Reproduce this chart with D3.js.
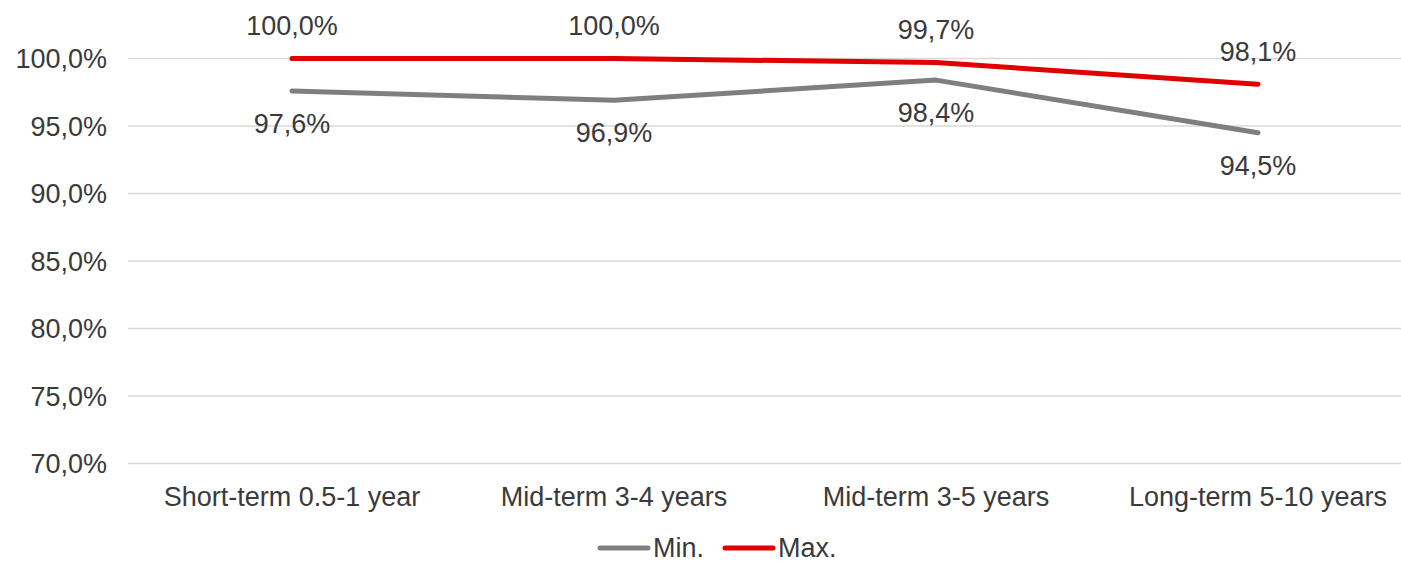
<!DOCTYPE html>
<html>
<head>
<meta charset="utf-8">
<script src="https://cdn.jsdelivr.net/npm/d3@7"></script>
<style>
    body { margin: 0; background: #fff; }
    svg text { font-family: "Liberation Sans", Arial, sans-serif; fill: #3a3a3a; }
</style>
</head>
<body>
<div id="chart"></div>
<script>
// Line chart - min / max by term

var categories = ["Short-term 0.5-1 year", "Mid-term 3-4 years", "Mid-term 3-5 years", "Long-term 5-10 years"];
var minValues = [97.6, 96.9, 98.4, 94.5];
var maxValues = [100.0, 100.0, 99.7, 98.1];
var yTicks = [70, 75, 80, 85, 90, 95, 100];
var seriesNames = ["Min.", "Max."];

function drawLineChart() {
    var width = 1401,
        height = 563,
        fontSize = "27px";

    var fmt = function (v) { return v.toFixed(1).replace(".", ",") + "%"; };

    var svg = d3.select('#chart').append("svg")
        .attr("width", width)
        .attr("height", height);

    var x = d3.scalePoint()
        .domain(categories)
        .range([292, 1258]);

    var y = d3.scaleLinear()
        .domain([70, 100])
        .range([463.5, 58.5]);

    // gridlines
    svg.append("g")
        .selectAll("line")
        .data(yTicks)
        .enter().append("line")
        .attr("x1", 128)
        .attr("x2", width)
        .attr("y1", function (d) { return y(d); })
        .attr("y2", function (d) { return y(d); })
        .style("stroke", "#d9d9d9")
        .style("stroke-width", 1.3);

    // y labels
    svg.append("g")
        .selectAll("text")
        .data(yTicks)
        .enter().append("text")
        .attr("x", 107)
        .attr("y", function (d) { return y(d); })
        .attr("dy", "0.36em")
        .attr("text-anchor", "end")
        .style("font-size", fontSize)
        .text(fmt);

    // x labels
    svg.append("g")
        .selectAll("text")
        .data(categories)
        .enter().append("text")
        .attr("x", function (d) { return x(d); })
        .attr("y", 506)
        .attr("text-anchor", "middle")
        .style("font-size", fontSize)
        .text(function (d) { return d; });

    var series = [
        { name: seriesNames[0], values: minValues, color: "#7f7f7f", dy: 42 },
        { name: seriesNames[1], values: maxValues, color: "#e00000", dy: -23.5 }
    ];

    var line = d3.line()
        .x(function (d, i) { return x(categories[i]); })
        .y(function (d) { return y(d); });

    series.forEach(function (s) {
        svg.append("path")
            .datum(s.values)
            .attr("d", line)
            .style("fill", "none")
            .style("stroke", s.color)
            .style("stroke-width", 5)
            .style("stroke-linejoin", "round")
            .style("stroke-linecap", "round");

        svg.append("g")
            .selectAll("text")
            .data(s.values)
            .enter().append("text")
            .attr("x", function (d, i) { return x(categories[i]); })
            .attr("y", function (d) { return y(d) + s.dy; })
            .attr("text-anchor", "middle")
            .style("font-size", fontSize)
            .text(fmt);
    });

    // legend
    var legend = svg.append("g");
    var lx = [600, 725];
    series.forEach(function (s, i) {
        legend.append("line")
            .attr("x1", lx[i])
            .attr("x2", lx[i] + 48)
            .attr("y1", 548)
            .attr("y2", 548)
            .style("stroke", s.color)
            .style("stroke-width", 5)
            .style("stroke-linecap", "round");
        legend.append("text")
            .attr("x", lx[i] + 53)
            .attr("y", 557)
            .style("font-size", fontSize)
            .text(s.name);
    });
}

drawLineChart();
</script>
</body>
</html>
